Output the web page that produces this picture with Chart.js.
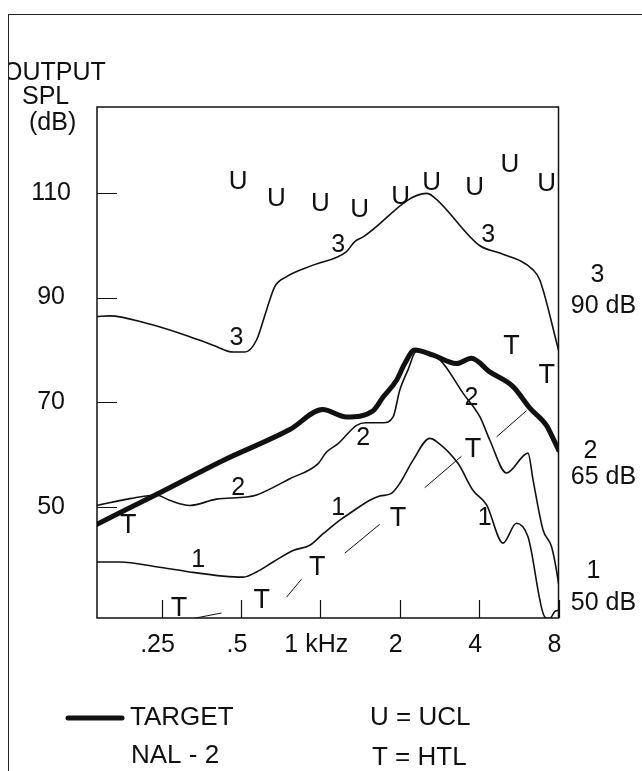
<!DOCTYPE html>
<html>
<head>
<meta charset="utf-8">
<title>Output SPL vs frequency</title>
<script src="https://cdn.jsdelivr.net/npm/chart.js@4.4.1/dist/chart.umd.min.js"></script>
<style>
  html, body { margin: 0; padding: 0; background: #fff; }
  #wrap { position: relative; width: 642px; height: 771px; overflow: hidden; }
  #frame { position: absolute; left: 8px; top: 14px; width: 700px; height: 800px;
           border-left: 1.5px solid #222; border-top: 1.5px solid #222; pointer-events: none; }
  canvas { position: absolute; left: 0; top: 0; }
</style>
</head>
<body>
<div id="wrap">
  <canvas id="chart" width="642" height="771"></canvas>
  <div id="frame"></div>
</div>
<script>
// frequency in kHz, output in dB SPL
const xTickValues = [0.25, 0.5, 1, 2, 4, 8];
const xTickLabels = ['.25', '.5', '1 kHz', '2', '4', '8'];
const yTickValues = [50, 70, 90, 110];

const targetFreq = [0.1423, 0.239, 0.428, 0.766, 1.02, 1.257, 1.586, 1.73, 1.945, 2.09, 2.28, 2.68, 3.28, 3.74, 4.39, 5.38, 6.23, 7.2, 7.63, 8];
const targetDb = [46.7, 52.4, 58.9, 64.8, 68.6, 67.2, 68.4, 71.0, 74.2, 77.4, 80.0, 79.0, 77.4, 78.4, 75.8, 73.0, 68.9, 65.6, 63.1, 60.9];

const curve3Freq = [0.1423, 0.159, 0.219, 0.293, 0.392, 0.467, 0.517, 0.573, 0.625, 0.672, 0.745, 0.939, 1.257, 1.351, 1.453, 2.53, 2.68, 4.03, 4.79, 6.41, 6.79, 8];
const curve3Db = [86.4, 86.5, 85.1, 83.2, 80.9, 79.6, 79.6, 81.9, 87.6, 92.1, 94.0, 96.2, 98.8, 100.7, 101.6, 109.9, 109.3, 99.9, 98.5, 95.3, 93.4, 80.0];

const curve2Freq = [0.1423, 0.19, 0.239, 0.268, 0.32, 0.404, 0.525, 0.573, 0.766, 0.981, 1.056, 1.168, 1.372, 1.49, 1.73, 1.888, 2.0, 2.15, 2.31, 2.84, 3.48, 4.03, 4.39, 5.08, 6.13, 6.41, 6.99, 7.53, 7.86, 8];
const curve2Db = [50.3, 51.6, 52.3, 51.3, 50.3, 51.5, 51.9, 52.3, 55.4, 58.3, 60.5, 62.1, 65.6, 66.1, 66.1, 67.2, 72.3, 76.2, 79.7, 78.1, 71.7, 67.2, 62.8, 56.5, 60.3, 55.1, 45.6, 42.4, 37.9, 35.4];

const curve1Freq = [0.1423, 0.174, 0.239, 0.32, 0.428, 0.51, 0.573, 0.662, 0.789, 0.912, 1.025, 1.186, 1.294, 1.54, 1.68, 1.86, 2.0, 2.25, 2.6, 2.76, 3.33, 3.79, 4.27, 4.93, 5.54, 6.13, 7.1, 7.41, 7.74, 8];
const curve1Db = [39.5, 39.5, 38.6, 37.6, 36.8, 36.6, 37.6, 39.5, 41.7, 42.7, 44.9, 47.5, 48.8, 51.3, 52.1, 52.6, 54.5, 59.0, 63.1, 62.5, 58.3, 53.2, 50.4, 43.1, 46.9, 44.3, 29.0, 28.7, 30.0, 30.3];

// U = UCL, T = HTL
const uclFreq = [0.488, 0.682, 1.0, 1.41, 2.015, 2.64, 3.85, 5.23, 7.21];
const uclDb = [112.2, 108.8, 108.0, 106.75, 109.2, 111.85, 110.9, 115.35, 111.7];
const htlFreq = [0.187, 0.291, 0.599, 0.973, 1.97, 3.79, 5.31, 7.22];
const htlDb = [46.5, 30.6, 32.2, 38.4, 47.8, 60.9, 80.6, 75.2];
const htlSegFreq = [[0.329, 0.422], [0.745, 0.848], [1.239, 1.68], [2.49, 3.43], [4.66, 6.05]];
const htlSegDb = [[28.7, 29.75], [32.8, 36.2], [41.2, 46.7], [53.7, 59.7], [63.4, 68.4]];

// curve number labels
const label3Freq = [0.481, 1.168, 4.33];
const label3Db = [82.2, 100.1, 102.0];
const label2Freq = [0.488, 1.453, 3.74];
const label2Db = [53.7, 63.1, 70.75];
const label1Freq = [0.344, 1.168, 4.20];
const label1Db = [39.8, 49.7, 47.8];

const INK = '#111';
const FONT = '"Liberation Sans", Arial, sans-serif';

const pts = (xs, ys) => xs.map((x, i) => ({ x: x, y: ys[i] }));

function segPoints(fs, ds) {
  const out = [];
  fs.forEach((pair, i) => {
    if (i > 0) out.push({ x: pair[0], y: null });
    out.push({ x: pair[0], y: ds[i][0] });
    out.push({ x: pair[1], y: ds[i][1] });
  });
  return out;
}

function curve(label, data, width) {
  return {
    label: label,
    data: data,
    borderColor: INK,
    borderWidth: width,
    pointRadius: 0,
    fill: false,
    cubicInterpolationMode: 'monotone',
    borderCapStyle: 'round',
    borderJoinStyle: 'round'
  };
}

function letters(label, data, letter, size) {
  return {
    label: label,
    data: data,
    letter: letter,
    letterSize: size,
    showLine: false,
    pointRadius: 0,
    borderColor: INK
  };
}

const overlay = {
  id: 'overlay',
  afterDatasetsDraw(chart) {
    const ctx = chart.ctx;
    const area = chart.chartArea;
    const xs = chart.scales.x;
    const ys = chart.scales.y;
    ctx.save();
    ctx.strokeStyle = INK;
    ctx.lineWidth = 1.5;
    ctx.strokeRect(area.left, area.top, area.right - area.left, area.bottom - area.top);

    // inward tick marks
    ctx.lineWidth = 1.2;
    ctx.beginPath();
    xs.ticks.forEach(t => {
      const px = Math.round(xs.getPixelForValue(t.value)) + 0.5;
      ctx.moveTo(px, area.bottom);
      ctx.lineTo(px, area.bottom - 18);
    });
    ys.ticks.forEach(t => {
      const py = Math.round(ys.getPixelForValue(t.value)) + 0.5;
      ctx.moveTo(area.left, py);
      ctx.lineTo(area.left + 20, py);
    });
    ctx.stroke();

    // letter markers placed at their data points
    ctx.fillStyle = INK;
    ctx.textAlign = 'center';
    ctx.textBaseline = 'middle';
    chart.data.datasets.forEach((ds, i) => {
      if (!ds.letter) return;
      ctx.font = ds.letterSize + 'px ' + FONT;
      chart.getDatasetMeta(i).data.forEach(pt => {
        ctx.fillText(ds.letter, pt.x, pt.y);
      });
    });
    ctx.restore();
  },
  afterDraw(chart) {
    const ctx = chart.ctx;
    const area = chart.chartArea;
    ctx.save();
    ctx.fillStyle = INK;
    ctx.textBaseline = 'middle';
    ctx.font = '25px ' + FONT;

    // y axis title, clipped by the outer frame
    ctx.save();
    ctx.beginPath();
    ctx.rect(9, 0, 700, 800);
    ctx.clip();
    ctx.textAlign = 'left';
    ctx.fillText('OUTPUT', 3, 73);
    ctx.restore();
    ctx.textAlign = 'left';
    ctx.fillText('SPL', 22, 97);
    ctx.fillText('(dB)', 29, 123);

    // input levels on the right
    ctx.textAlign = 'center';
    const rx = area.right + 45;
    ctx.fillText('3', rx - 6, 275);
    ctx.fillText('90 dB', rx, 306);
    ctx.fillText('2', rx - 13, 451);
    ctx.fillText('65 dB', rx, 477);
    ctx.fillText('1', rx - 10, 571);
    ctx.fillText('50 dB', rx, 603);

    // legend
    ctx.strokeStyle = INK;
    ctx.lineWidth = 5;
    ctx.lineCap = 'round';
    ctx.beginPath();
    ctx.moveTo(68, 718);
    ctx.lineTo(122, 718);
    ctx.stroke();
    ctx.textAlign = 'left';
    ctx.font = '26px ' + FONT;
    ctx.fillText('TARGET', 130, 718);
    ctx.fillText('NAL - 2', 131, 756);
    ctx.fillText('U = UCL', 370, 718);
    ctx.fillText('T = HTL', 372, 758);
    ctx.restore();
  }
};

new Chart(document.getElementById('chart'), {
  type: 'line',
  data: {
    datasets: [
      curve('Curve 3 (90 dB)', pts(curve3Freq, curve3Db), 1.6),
      curve('Curve 2 (65 dB)', pts(curve2Freq, curve2Db), 1.6),
      curve('Curve 1 (50 dB)', pts(curve1Freq, curve1Db), 1.6),
      curve('Target NAL-2', pts(targetFreq, targetDb), 5),
      {
        label: 'HTL line',
        data: segPoints(htlSegFreq, htlSegDb),
        borderColor: INK,
        borderWidth: 1,
        pointRadius: 0,
        tension: 0,
        spanGaps: false
      },
      letters('UCL', pts(uclFreq, uclDb), 'U', 26),
      letters('HTL', pts(htlFreq, htlDb), 'T', 27),
      letters('3', pts(label3Freq, label3Db), '3', 25),
      letters('2', pts(label2Freq, label2Db), '2', 25),
      letters('1', pts(label1Freq, label1Db), '1', 25)
    ]
  },
  options: {
    responsive: false,
    animation: false,
    layout: { padding: { left: 0, top: 107, right: 83.5, bottom: 113 } },
    plugins: {
      legend: { display: false },
      tooltip: { enabled: false }
    },
    scales: {
      x: {
        type: 'logarithmic',
        min: 0.1423,
        max: 8,
        grid: { display: false },
        border: { display: false },
        afterBuildTicks: scale => {
          scale.ticks = xTickValues.map(v => ({ value: v }));
        },
        afterFit: scale => { scale.height = 40; },
        ticks: {
          autoSkip: false,
          maxRotation: 0,
          minRotation: 0,
          padding: 4,
          labelOffset: -4,
          color: INK,
          font: { family: FONT, size: 25 },
          callback: (value, index) => xTickLabels[index]
        }
      },
      y: {
        type: 'linear',
        min: 28.8,
        max: 126.4,
        grid: { display: false },
        border: { display: false },
        afterBuildTicks: scale => {
          scale.ticks = yTickValues.map(v => ({ value: v }));
        },
        afterFit: scale => { scale.width = 97; },
        ticks: {
          crossAlign: 'center',
          padding: 18,
          color: INK,
          font: { family: FONT, size: 25 },
          callback: value => String(value)
        }
      }
    }
  },
  plugins: [overlay]
});
</script>
</body>
</html>
